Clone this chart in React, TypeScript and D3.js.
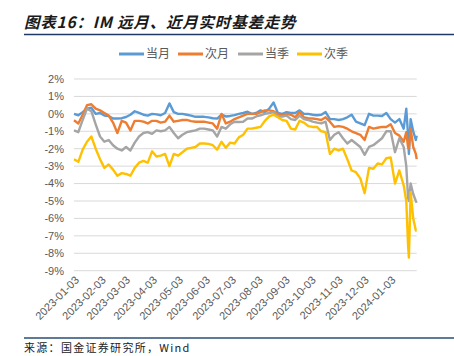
import React from "react";
import * as d3 from "d3";

const dates: string[] = [
  "2023-01-03","2023-01-08","2023-01-13","2023-01-18","2023-01-23","2023-01-28",
  "2023-02-02","2023-02-07","2023-02-12","2023-02-17","2023-02-22","2023-02-27",
  "2023-03-04","2023-03-09","2023-03-14","2023-03-19","2023-03-24","2023-03-29",
  "2023-04-03","2023-04-08","2023-04-13","2023-04-18","2023-04-23","2023-04-28",
  "2023-05-03","2023-05-08","2023-05-13","2023-05-18","2023-05-23","2023-05-28",
  "2023-06-02","2023-06-07","2023-06-12","2023-06-17","2023-06-22","2023-06-27",
  "2023-07-02","2023-07-07","2023-07-12","2023-07-17","2023-07-22","2023-07-27",
  "2023-08-01","2023-08-06","2023-08-11","2023-08-16","2023-08-21","2023-08-26","2023-08-31",
  "2023-09-05","2023-09-10","2023-09-15","2023-09-20","2023-09-25","2023-09-30",
  "2023-10-05","2023-10-10","2023-10-15","2023-10-20","2023-10-25","2023-10-30",
  "2023-11-04","2023-11-09","2023-11-14","2023-11-19","2023-11-24","2023-11-29",
  "2023-12-04","2023-12-09","2023-12-14","2023-12-19","2023-12-24","2023-12-29",
  "2024-01-03","2024-01-08","2024-01-13","2024-01-18","2024-01-21","2024-01-23",
  "2024-01-24","2024-01-26","2024-01-29","2024-02-01","2024-02-02",
];

// values in %
const dangYue: number[] = [
  0.0,-0.08,0.1,0.3,0.35,0.0,0.05,-0.1,-0.12,-0.27,-0.27,-0.25,-0.18,-0.05,0.15,0.05,-0.05,-0.1,0.0,-0.03,
  -0.08,0.05,0.6,0.1,0.0,0.0,-0.05,-0.1,-0.17,-0.17,-0.17,-0.2,-0.25,-0.27,-0.05,-0.15,-0.12,-0.07,0.0,0.05,
  0.12,0.0,0.05,0.2,0.1,0.3,0.65,0.05,0.0,0.1,0.05,0.05,0.2,
  0.0,0.0,-0.05,-0.08,-0.05,0.1,-0.3,-0.3,-0.35,-0.3,-0.2,-0.05,-0.45,-0.55,-0.65,0.0,-0.1,-0.1,-0.12,0.05,-0.3,
  -0.5,-0.3,-0.85,0.3,-1.2,-2.3,-0.3,-1.0,-1.5,-1.25,
];
const ciYue: number[] = [
  -0.37,-0.55,-0.05,0.5,0.55,0.3,0.2,0.05,-0.1,-0.5,-1.1,-0.4,-0.5,-0.95,-0.4,-0.4,-0.45,-0.55,-0.4,-0.4,
  -0.5,-0.45,-0.1,-0.45,-0.4,-0.35,-0.35,-0.42,-0.45,-0.45,-0.45,-0.5,-0.55,-0.85,0.0,-0.55,-0.45,-0.3,-0.2,-0.1,
  0.0,0.0,0.0,0.1,0.2,0.2,0.15,0.0,-0.1,0.0,-0.05,-0.2,0.1,
  -0.2,-0.25,-0.27,-0.3,-0.35,-0.2,-0.45,-0.75,-0.7,-0.75,-0.85,-1.0,-1.1,-1.2,-1.5,-0.75,-0.85,-0.8,-0.75,-0.75,-0.6,
  -1.1,-1.25,-1.6,-1.05,-1.9,-2.0,-0.85,-1.9,-2.3,-2.6,
];
const dangJi: number[] = [
  -0.95,-1.05,-0.35,0.3,0.15,-0.6,-1.3,-1.6,-1.5,-1.8,-2.0,-2.1,-1.9,-2.1,-1.65,-1.3,-1.1,-1.05,-1.15,-0.95,
  -1.0,-0.95,-0.75,-1.1,-1.4,-1.2,-1.05,-1.0,-0.95,-0.85,-0.85,-0.9,-0.95,-1.3,-0.75,-0.85,-0.6,-0.45,-0.47,-0.45,
  -0.27,-0.27,-0.15,-0.08,0.0,0.05,0.1,-0.15,-0.15,-0.1,-0.3,-0.35,-0.1,
  -0.3,-0.35,-0.45,-0.5,-0.55,-0.45,-1.5,-1.2,-1.05,-1.4,-1.7,-1.5,-1.7,-1.9,-2.35,-1.9,-1.8,-1.6,-1.4,-1.0,-1.0,
  -2.2,-1.4,-1.9,-3.0,-4.8,-5.0,-4.0,-4.6,-5.0,-5.1,
];
const ciJi: number[] = [
  -2.6,-2.75,-2.05,-1.6,-1.3,-2.0,-2.6,-3.1,-2.9,-3.2,-3.55,-3.4,-3.45,-3.55,-3.1,-2.8,-2.7,-2.8,-2.15,-2.45,
  -2.4,-2.3,-3.0,-2.3,-2.4,-2.2,-2.0,-1.95,-1.9,-1.7,-1.7,-1.72,-1.8,-2.05,-1.6,-1.95,-1.65,-1.7,-1.35,-1.2,
  -0.85,-0.85,-0.8,-0.75,-0.4,-0.15,-0.05,-0.2,-0.35,-0.4,-0.85,-0.9,-0.4,
  -0.5,-0.7,-0.75,-0.75,-1.0,-1.05,-2.3,-2.0,-2.1,-2.0,-2.6,-3.25,-3.35,-3.7,-4.55,-3.1,-3.15,-2.85,-2.9,-2.55,-2.5,
  -4.0,-3.25,-4.1,-5.0,-7.5,-8.25,-4.5,-6.0,-6.7,-6.7,
];

const seriesNames: string[] = ["当月", "次月", "当季", "次季"];
const seriesColors: string[] = ["#5B9BD5", "#ED7D31", "#A5A5A5", "#FFC000"];
const yTicks: number[] = [2, 1, 0, -1, -2, -3, -4, -5, -6, -7, -8, -9];
const xTickLabels: string[] = [
  "2023-01-03","2023-02-03","2023-03-03","2023-04-03","2023-05-03","2023-06-03",
  "2023-07-03","2023-08-03","2023-09-03","2023-10-03","2023-11-03","2023-12-03","2024-01-03",
];

const W = 454, H = 356;
const left = 74, right = 416.7, top = 79, bottom = 270.7;

export default function App() {
  const parse = d3.timeParse("%Y-%m-%d");
  const x = d3.scaleTime()
    .domain([parse("2023-01-03")!, parse("2024-02-02")!])
    .range([left, right]);
  const y = d3.scaleLinear().domain([-9, 2]).range([bottom, top]);
  const all = [dangYue, ciYue, dangJi, ciJi];
  const line = d3.line<number>()
    .x((_, i) => x(parse(dates[i])!))
    .y((v) => y(v));

  const legendX = [119, 178, 238, 297];

  return (
    <svg width={W} height={H} style={{ position: "absolute", left: 0, top: 0, background: "#fff" }}>
      <text x={24} y={28} fontFamily="'Noto Sans CJK SC'" fontSize={15.5} fontWeight="bold"
        fontStyle="italic" fill="#1a1a1a" letterSpacing={0.8}>图表16：IM 远月、近月实时基差走势</text>
      <line x1={24} x2={454} y1={34.5} y2={34.5} stroke="#1F3864" strokeWidth={1.5} />

      {seriesNames.map((n, i) => (
        <g key={n}>
          <line x1={legendX[i]} x2={legendX[i] + 25} y1={54} y2={54} stroke={seriesColors[i]} strokeWidth={3} />
          <text x={legendX[i] + 27} y={58} fontFamily="'Noto Sans CJK SC'" fontSize={12} fill="#595959">{n}</text>
        </g>
      ))}

      {yTicks.map((t) => (
        <g key={t}>
          <line x1={left} x2={right} y1={y(t)} y2={y(t)} stroke="#D9D9D9" strokeWidth={1} />
          <text x={64} y={y(t)} dy="0.35em" textAnchor="end" fontFamily="Liberation Sans, Arial"
            fontSize={11} fill="#595959">{t}%</text>
        </g>
      ))}

      {all.map((s, i) => (
        <path key={i} d={line(s) || ""} fill="none" stroke={seriesColors[i]} strokeWidth={2.4}
          strokeLinejoin="round" />
      ))}

      {xTickLabels.map((l) => {
        const px = x(parse(l)!);
        return (
          <text key={l} transform={`translate(${px + 3},${278}) rotate(-45)`} textAnchor="end"
            fontFamily="Liberation Sans, Arial" fontSize={11} fill="#595959" dy="0.35em">{l}</text>
        );
      })}

      <line x1={24} x2={454} y1={338} y2={338} stroke="#5F7A96" strokeWidth={2} />
      <text x={24} y={352} fontFamily="'Noto Sans CJK SC'" fontSize={11} fill="#222" letterSpacing={1.3}>来源：国金证券研究所，Wind</text>
    </svg>
  );
}
